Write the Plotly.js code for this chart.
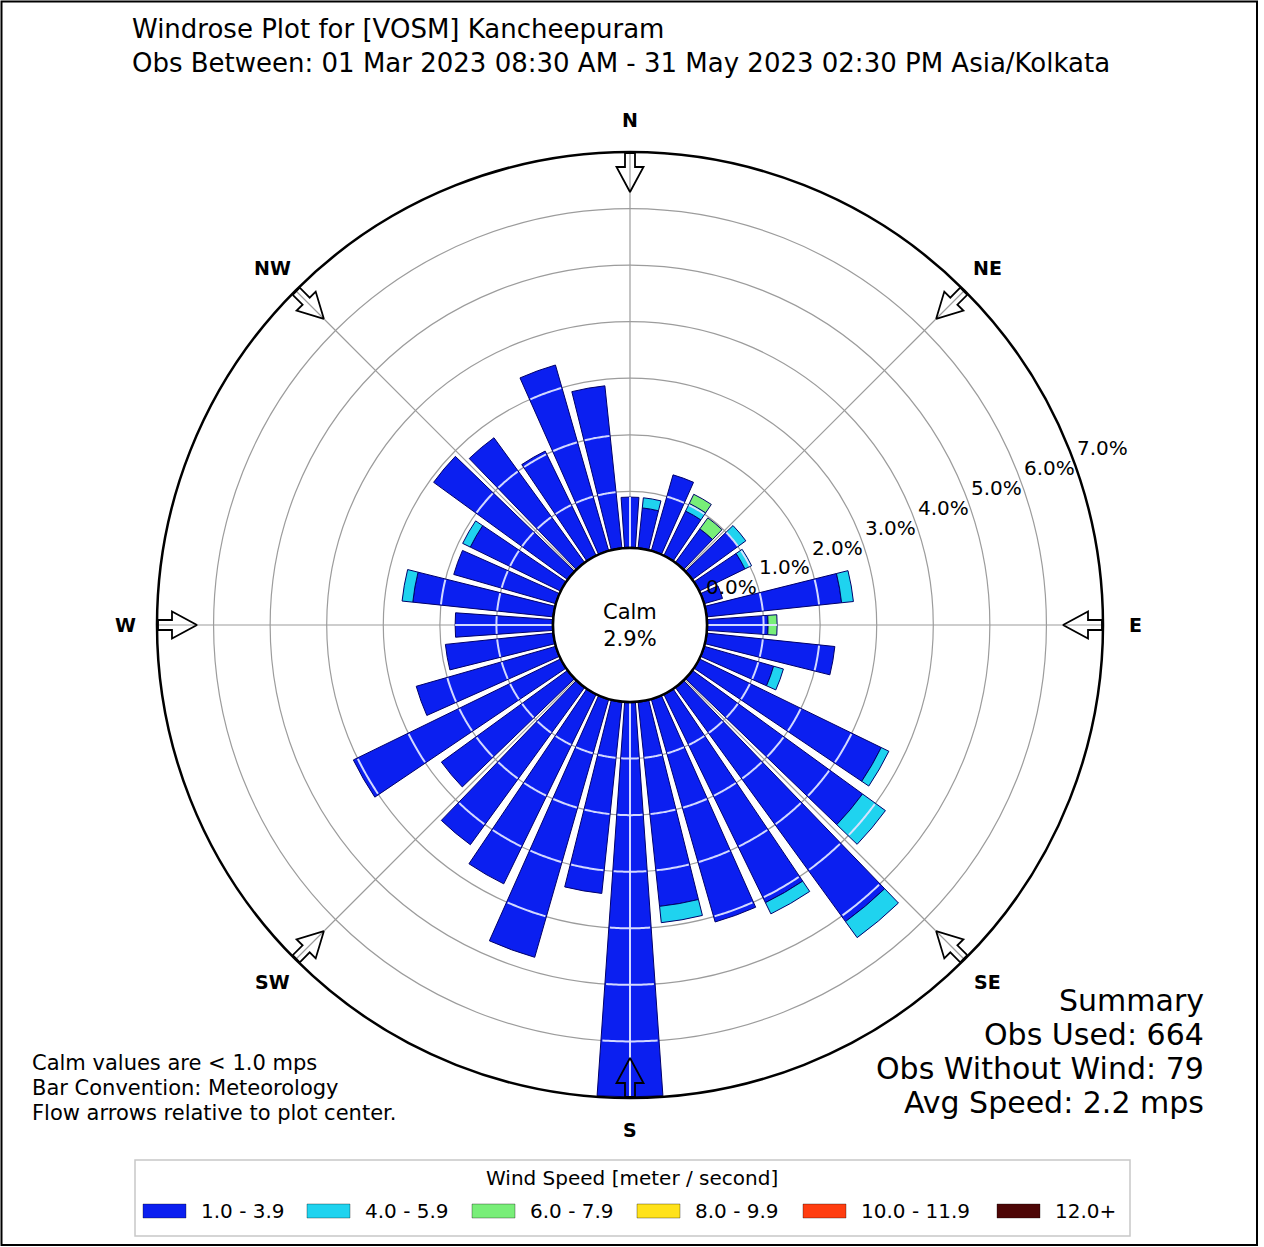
<!DOCTYPE html>
<html>
<head>
<meta charset="utf-8">
<script src="https://cdn.plot.ly/plotly-3.0.1.min.js"></script>
<style>
html,body{margin:0;padding:0;background:#ffffff;}
#chart{width:1264px;height:1247px;}
</style>
</head>
<body>
<div id="chart"></div>
<script>
// ---------------- DATA ----------------
const directions = [0,10,20,30,40,50,60,70,80,90,100,110,120,130,140,150,160,170,
                    180,190,200,210,220,230,240,250,260,270,280,290,300,310,320,330,340,350];
const speedBins = ["1.0 - 3.9","4.0 - 5.9","6.0 - 7.9","8.0 - 9.9","10.0 - 11.9","12.0+"];
// percent of observations per direction and speed bin
const pct_1_4   = [0.90,0.72,1.40,0.88,0.74,1.00,0.90,0.34,2.40,1.08,2.28,1.28,3.58,3.72,5.12,4.10,4.10,3.64,
                   6.98,3.41,4.75,3.73,3.44,2.76,4.08,2.57,1.92,1.73,2.50,1.88,1.78,2.93,2.73,2.06,3.42,2.89];
const pct_4_6   = [0,0.18,0,0.15,0,0.17,0.13,0,0.21,0,0,0.18,0.15,0.50,0.35,0.22,0,0.29,
                   0,0,0,0,0,0,0,0,0,0,0.19,0,0.15,0,0,0,0,0];
const pct_6_8   = [0,0,0,0.18,0.24,0,0,0,0,0.16,0,0,0,0,0,0,0,0,
                   0,0,0,0,0,0,0,0,0,0,0,0,0,0,0,0,0,0];
const pct_8_10  = [0,0,0,0,0,0,0,0,0,0,0,0,0,0,0,0,0,0,0,0,0,0,0,0,0,0,0,0,0,0,0,0,0,0,0,0];
const pct_10_12 = [0,0,0,0,0,0,0,0,0,0,0,0,0,0,0,0,0,0,0,0,0,0,0,0,0,0,0,0,0,0,0,0,0,0,0,0];
const pct_12p   = [0,0,0,0,0,0,0,0,0,0,0,0,0,0,0,0,0,0,0,0,0,0,0,0,0,0,0,0,0,0,0,0,0,0,0,0];
const compassLabels = ["N","NE","E","SE","S","SW","W","NW"];
const compassAngles = [0,45,90,135,180,225,270,315];
const radialTicks = [0,1,2,3,4,5,6,7];
const radialTickLabels = ["0.0%","1.0%","2.0%","3.0%","4.0%","5.0%","6.0%","7.0%"];
const calmPct = "2.9%";
const titleLines = ["Windrose Plot for [VOSM] Kancheepuram",
                    "Obs Between: 01 Mar 2023 08:30 AM - 31 May 2023 02:30 PM Asia/Kolkata"];
const noteLines = ["Calm values are &lt; 1.0 mps","Bar Convention: Meteorology","Flow arrows relative to plot center."];
const summaryLines = ["Summary","Obs Used: 664","Obs Without Wind: 79","Avg Speed: 2.2 mps"];
const legendTitle = "Wind Speed [meter / second]";

// ---------------- STYLE / LAYOUT ----------------
const binColors = ["#0b1ff0","#1fd3ef","#78ee78","#ffe21a","#ff3d10","#4d0606"];
const W = 1264, H = 1247;
const CX = 630, CY = 625, R_OUT = 473, HOLE_PX = 77;
const FONT = "DejaVu Sans, Verdana, sans-serif";
const RMAX = 7;
const pxPerUnit = (R_OUT - HOLE_PX) / RMAX;
const px2r = px => (px - HOLE_PX) / pxPerUnit;
const px2x = x => x / W;
const px2y = y => 1 - y / H;
const polarPx = (rpx, bearing) => [CX + rpx * Math.sin(bearing * Math.PI / 180), CY - rpx * Math.cos(bearing * Math.PI / 180)];

const series = [pct_1_4, pct_4_6, pct_6_8, pct_8_10, pct_10_12, pct_12p];
const traces = [];
series.forEach((vals, k) => {
  traces.push({
    type: "barpolar", r: vals, theta: directions, width: 8,
    name: speedBins[k], showlegend: false,
    marker: {color: binColors[k], line: {color: "#00006a", width: 1}},
    hoverinfo: "skip"
  });
});

// light grid lines visible over bars (only where bars are)
const totals = directions.map((d, i) => series.reduce((s, a) => s + a[i], 0));
const ovR = [], ovT = [];
for (let k = 1; k < RMAX; k++) {
  directions.forEach((d, i) => {
    if (totals[i] > k + 0.02) {
      for (let t = d - 3.8; t <= d + 3.81; t += 0.4) { ovR.push(k); ovT.push(t); }
      ovR.push(null); ovT.push(null);
    }
  });
}
directions.forEach((d, i) => {
  if (compassAngles.includes(d) && totals[i] > 0) {
    ovR.push(0, totals[i], null); ovT.push(d, d, null);
  }
});
traces.push({type: "scatterpolar", mode: "lines", r: ovR, theta: ovT, connectgaps: false,
  line: {color: "rgba(222,228,255,0.95)", width: 2}, hoverinfo: "skip", showlegend: false});

// inner (calm) circle edge
const circT = []; for (let t = 0; t <= 360; t += 2) circT.push(t);
traces.push({type: "scatterpolar", mode: "lines", r: circT.map(() => 0), theta: circT,
  line: {color: "#000000", width: 2.5}, hoverinfo: "skip", showlegend: false});

// flow arrows at the compass points
const arrowShape = [[472,-5],[458,-5],[458,-13.5],[433,0],[458,13.5],[458,5],[472,5],[472,-5]];
const arR = [], arT = [];
compassAngles.forEach(a => {
  arrowShape.forEach(([d, v]) => {
    arR.push(px2r(Math.hypot(d, v)));
    arT.push(a + Math.atan2(v, d) * 180 / Math.PI);
  });
  arR.push(null); arT.push(null);
});
traces.push({type: "scatterpolar", mode: "lines", r: arR, theta: arT, connectgaps: false,
  line: {color: "#000000", width: 1.8}, hoverinfo: "skip", showlegend: false});

const annotations = [];
const shapes = [];
// radial tick labels (placed along bearing 69.5 deg, just outside each ring)
radialTicks.forEach((v, i) => {
  const [x, y] = polarPx(HOLE_PX + v * pxPerUnit + 31, 69.5);
  annotations.push({xref: "paper", yref: "paper", x: px2x(x), y: px2y(y), xanchor: "center", yanchor: "middle",
    text: radialTickLabels[i], showarrow: false, font: {family: FONT, size: 20, color: "#000"}});
});
// compass labels
compassAngles.forEach((a, i) => {
  const [x, y] = polarPx(505, a);
  annotations.push({xref: "paper", yref: "paper", x: px2x(x), y: px2y(y), xanchor: "center", yanchor: "middle",
    text: compassLabels[i], showarrow: false, font: {family: FONT, size: 19, color: "#000", weight: "bold"}});
});
annotations.push({xref: "paper", yref: "paper", x: px2x(CX), y: px2y(CY), xanchor: "center", yanchor: "middle",
  text: "Calm<br>" + calmPct, showarrow: false, font: {family: FONT, size: 21, color: "#000"}});
noteLines.forEach((t, i) => annotations.push({xref: "paper", yref: "paper", x: px2x(30), y: px2y(1063 + 25 * i),
  xanchor: "left", yanchor: "middle", text: t, showarrow: false, font: {family: FONT, size: 21, color: "#000"}}));
summaryLines.forEach((t, i) => annotations.push({xref: "paper", yref: "paper", x: px2x(1206), y: px2y(1000 + 34.3 * i),
  xanchor: "right", yanchor: "middle", text: t, showarrow: false, font: {family: FONT, size: 30, color: "#000"}}));

// legend (manual, wide swatches)
shapes.push({type: "rect", xref: "paper", yref: "paper", x0: px2x(135), x1: px2x(1130), y0: px2y(1236), y1: px2y(1160),
  line: {color: "#c8c8c8", width: 1.5}, fillcolor: "rgba(255,255,255,0)"});
annotations.push({xref: "paper", yref: "paper", x: px2x(632), y: px2y(1178), xanchor: "center", yanchor: "middle",
  text: legendTitle, showarrow: false, font: {family: FONT, size: 20, color: "#000"}});
const legendX = [143, 307, 472, 637, 803, 997];
speedBins.forEach((lab, k) => {
  const x0 = legendX[k];
  shapes.push({type: "rect", xref: "paper", yref: "paper", x0: px2x(x0), x1: px2x(x0 + 43),
    y0: px2y(1218), y1: px2y(1204), fillcolor: binColors[k], line: {color: "#00000055", width: 1}});
  annotations.push({xref: "paper", yref: "paper", x: px2x(x0 + 56), y: px2y(1211), xanchor: "left", yanchor: "middle",
    text: lab, showarrow: false, font: {family: FONT, size: 20, color: "#000"}});
});
// outer frame
shapes.push({type: "rect", xref: "paper", yref: "paper", x0: px2x(1.5), x1: px2x(1257), y0: px2y(1245), y1: px2y(1.5),
  line: {color: "#000", width: 2}, fillcolor: "rgba(0,0,0,0)"});

const layout = {
  width: W, height: H, autosize: false,
  margin: {l: 0, r: 0, t: 0, b: 0, pad: 0},
  paper_bgcolor: "#ffffff", plot_bgcolor: "#ffffff",
  showlegend: false,
  title: {text: titleLines.join("<br>"), x: px2x(132), xanchor: "left", xref: "paper",
          y: px2y(38), yref: "paper", yanchor: "top",
          font: {family: FONT, size: 26, color: "#000"}},
  polar: {
    domain: {x: [px2x(CX - R_OUT), px2x(CX + R_OUT)], y: [px2y(CY + R_OUT), px2y(CY - R_OUT)]},
    bgcolor: "#ffffff", hole: HOLE_PX / R_OUT, barmode: "stack",
    angularaxis: {rotation: 90, direction: "clockwise", tickmode: "array",
      tickvals: compassAngles, ticktext: compassLabels, showticklabels: false,
      showline: true, linecolor: "#000000", linewidth: 2.5,
      showgrid: true, gridcolor: "#9c9c9c", gridwidth: 1.2, ticks: ""},
    radialaxis: {range: [0, RMAX], tickmode: "array", tickvals: radialTicks,
      showticklabels: false, ticks: "", showline: false,
      showgrid: true, gridcolor: "#9c9c9c", gridwidth: 1.2}
  },
  annotations: annotations,
  shapes: shapes
};

Plotly.newPlot("chart", traces, layout, {displayModeBar: false, staticPlot: true});
</script>
</body>
</html>
